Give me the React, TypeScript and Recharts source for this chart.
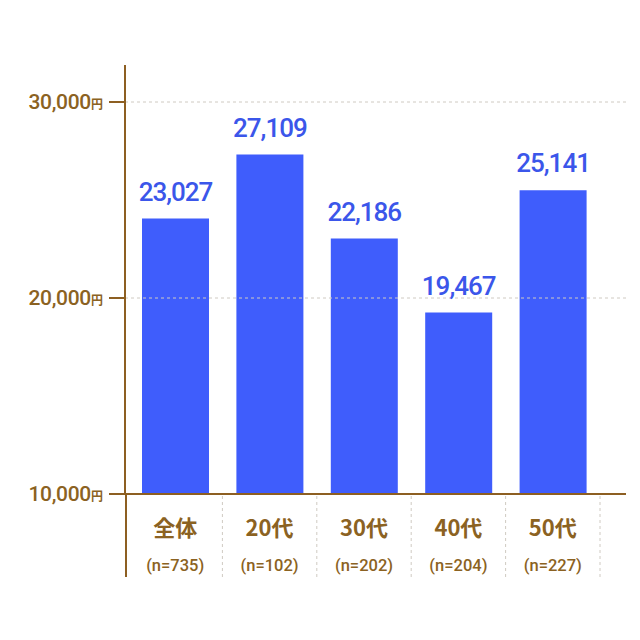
import React from "react"
import { BarChart, Bar, XAxis, YAxis, ReferenceLine, LabelList } from "recharts"

// categories and sample sizes
const categories = ["全体", "20代", "30代", "40代", "50代"]
const sampleSizes = ["(n=735)", "(n=102)", "(n=202)", "(n=204)", "(n=227)"]
// printed figures above the bars
const valueLabels = ["23,027", "27,109", "22,186", "19,467", "25,141"]
// bar heights as drawn in the picture (the source art does not match its own labels)
const barValues = [24050, 27320, 23030, 19255, 25495]
const yTicks = [10000, 20000, 30000]
const gridValues = [20000, 30000]

const BLUE = "#3f5dfc"
const LABEL_BLUE = "#3b56ea"
const BROWN = "#8b6222"
const AXIS = "#8d5f22"
const GRID = "#cfcac2"

const data = categories.map((name, i) => ({
  name,
  n: sampleSizes[i],
  label: valueLabels[i],
  value: [10000, barValues[i]],
}))

function YTick(props: any) {
  const { x, y, payload } = props
  return (
    <text x={x} y={y} dy={7} textAnchor="end" fill={BROWN} fontFamily="Roboto, sans-serif" fontWeight={500}>
      <tspan fontSize={21} letterSpacing={-0.3}>{payload.value.toLocaleString("en-US")}</tspan>
      <tspan fontSize={12} fontFamily="'Noto Sans CJK JP', sans-serif" fontWeight={700}>円</tspan>
    </text>
  )
}

function XTick(props: any) {
  const { x, y, payload, index } = props
  const half = payload.offset ?? 47.5
  const top = y - 8
  const d = data[index]
  return (
    <g>
      {index === 0 && <line x1={x - half - 2} x2={x - half - 2} y1={top} y2={top + 83} stroke={AXIS} strokeWidth={2} />}
      <line x1={x + half} x2={x + half} y1={top + 2} y2={top + 83} stroke={GRID} strokeWidth={1} strokeDasharray="3 3" />
      <text x={x} y={top + 42} textAnchor="middle" fill={BROWN} fontSize={22} fontWeight={700} fontFamily="'Noto Sans CJK JP', sans-serif">
        {d.name}
      </text>
      <text x={x} y={top + 77} textAnchor="middle" fill={BROWN} fontSize={16.5} fontWeight={500} fontFamily="Roboto, sans-serif">
        {d.n}
      </text>
    </g>
  )
}

function ValueLabel(props: any) {
  const { x, y, width, index } = props
  return (
    <text
      x={x + width / 2}
      y={y - 18}
      textAnchor="middle"
      fill={LABEL_BLUE}
      fontSize={26}
      fontWeight={500}
      letterSpacing={-1}
      fontFamily="Roboto, sans-serif"
    >
      {valueLabels[index]}
    </text>
  )
}

export default function App() {
  return (
    <div style={{ position: "absolute", left: 0, top: 0, width: 640, height: 640, background: "#fff" }}>
      <BarChart width={640} height={640} data={data} margin={{ top: 65, right: 14, bottom: 0, left: 0 }}>
        {gridValues.map((v) => (
          <ReferenceLine key={v} y={v} stroke={GRID} strokeDasharray="3 3" />
        ))}
        <XAxis
          dataKey="name"
          height={146}
          padding={{ left: 3, right: 26 }}
          axisLine={{ stroke: AXIS, strokeWidth: 2 }}
          tickLine={false}
          tick={<XTick />}
          interval={0}
        />
        <YAxis
          width={125}
          domain={[10000, 31888]}
          ticks={yTicks}
          allowDataOverflow
          axisLine={{ stroke: AXIS, strokeWidth: 2 }}
          tickLine={{ stroke: AXIS, strokeWidth: 2 }}
          tickSize={16}
          tickMargin={6}
          tick={<YTick />}
        />
        <Bar dataKey="value" fill={BLUE} barSize={67} isAnimationActive={false}>
          <LabelList dataKey="label" content={<ValueLabel />} />
        </Bar>
      </BarChart>
    </div>
  )
}
